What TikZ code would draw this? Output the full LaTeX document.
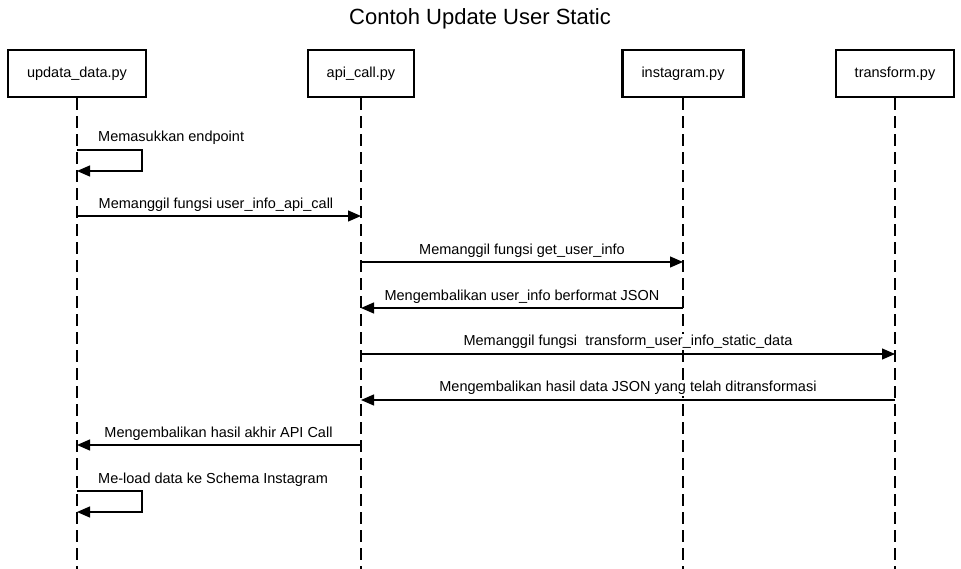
\documentclass[tikz,border=0pt]{standalone}
\usepackage{fontspec}
\setmainfont{Liberation Sans}
\usetikzlibrary{arrows.meta}
\begin{document}
\begin{tikzpicture}[x=1pt,y=-1pt,
  actor/.style={draw,line width=2.7pt,minimum height=47pt,inner sep=0pt,
    font=\fontsize{14.5}{17}\selectfont},
  life/.style={dash pattern=on 12pt off 6pt,line width=1.3pt},
  msg/.style={-{Triangle[length=13pt,width=11pt]},line width=1.2pt},
  lbl/.style={font=\fontsize{14.5}{17}\selectfont,fill=white,inner sep=1pt},
  ttl/.style={font=\fontsize{22}{26}\selectfont}]
\useasboundingbox (0,0) rectangle (961,569);
\node[ttl] (title) at (480,19) {Contoh Update User Static};
% actors
\node[actor,minimum width=138pt] (A) at (77,73.5) {updata\_data.py};
\node[actor,minimum width=106pt] (B) at (361,73.5) {api\_call.py};
\node[actor,minimum width=121pt] (C) at (683,73.5) {instagram.py};
\node[actor,minimum width=118pt] (D) at (895,73.5) {transform.py};
% lifeline ends
\coordinate (Ae) at (77,569);
\coordinate (Be) at (361,569);
\coordinate (Ce) at (683,569);
\coordinate (De) at (895,569);
\draw[life] (A.south) -- (Ae);
\draw[life] (B.south) -- (Be);
\draw[life] (C.south) -- (Ce);
\draw[life] (D.south) -- (De);
% message 1: self loop
\coordinate (m1a) at (77,150);
\coordinate (m1b) at (77,171);
\draw[msg] (m1a) -- ++(65,0) |- (m1b);
\node[lbl,anchor=west] (l1) at (97,138) {Memasukkan endpoint};
% message 2
\coordinate (m2a) at (77,216);
\coordinate (m2b) at (361,216);
\draw[msg] (m2a) -- (m2b);
\node[lbl] (l2) at (216,204.5) {Memanggil fungsi user\_info\_api\_call};
% message 3
\coordinate (m3a) at (361,262);
\coordinate (m3b) at (683,262);
\draw[msg] (m3a) -- (m3b);
\node[lbl] (l3) at (522,250.5) {Memanggil fungsi get\_user\_info};
% message 4
\coordinate (m4a) at (683,308);
\coordinate (m4b) at (361,308);
\draw[msg] (m4a) -- (m4b);
\node[lbl] (l4) at (522,296.5) {Mengembalikan user\_info berformat JSON};
% message 5
\coordinate (m5a) at (361,354);
\coordinate (m5b) at (895,354);
\draw[msg] (m5a) -- (m5b);
\node[lbl] (l5) at (628,342) {Memanggil fungsi\ \ transform\_user\_info\_static\_data};
% message 6
\coordinate (m6a) at (895,400);
\coordinate (m6b) at (361,400);
\draw[msg] (m6a) -- (m6b);
\node[lbl] (l6) at (628,388) {Mengembalikan hasil data JSON yang telah ditransformasi};
% message 7
\coordinate (m7a) at (361,445);
\coordinate (m7b) at (77,445);
\draw[msg] (m7a) -- (m7b);
\node[lbl] (l7) at (218.5,434) {Mengembalikan hasil akhir API Call};
% message 8: self loop
\coordinate (m8a) at (77,491);
\coordinate (m8b) at (77,512);
\draw[msg] (m8a) -- ++(65,0) |- (m8b);
\node[lbl,anchor=west] (l8) at (97,480) {Me-load data ke Schema Instagram};
\end{tikzpicture}
\end{document}
